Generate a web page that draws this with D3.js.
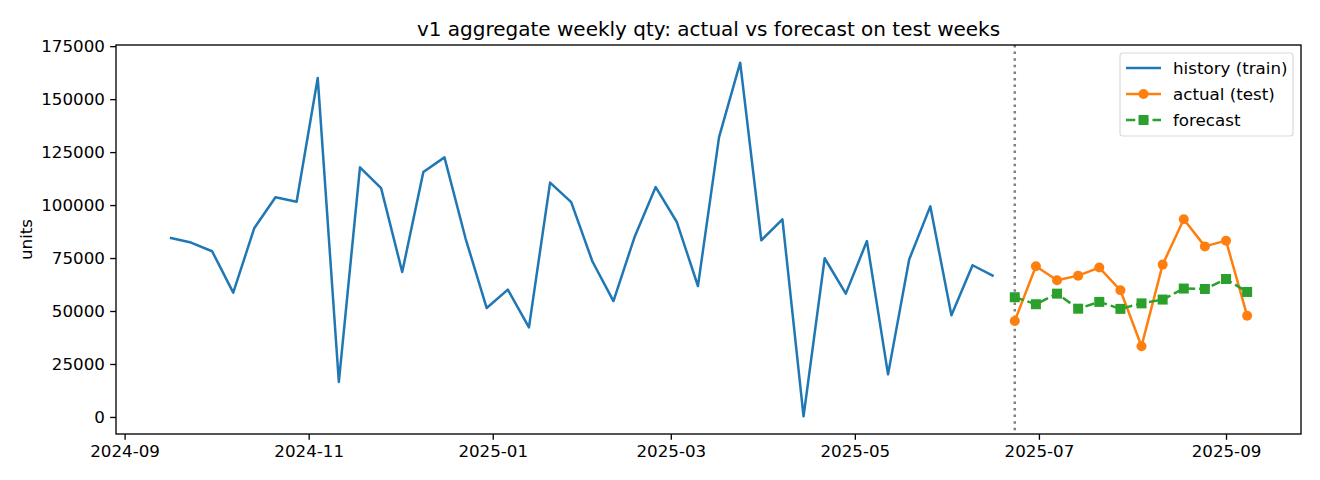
<!DOCTYPE html>
<html>
<head>
<meta charset="utf-8">
<script src="https://cdn.jsdelivr.net/npm/d3@7"></script>
<style>
  body { margin: 0; background: #fff; }
  text { font-family: "DejaVu Sans", sans-serif; }
</style>
</head>
<body>
<div id="chart"></div>
<script>
// weekly dates (Mondays)
var histDates = ["2024-09-16","2024-09-23","2024-09-30","2024-10-07","2024-10-14","2024-10-21","2024-10-28",
  "2024-11-04","2024-11-11","2024-11-18","2024-11-25","2024-12-02","2024-12-09","2024-12-16","2024-12-23",
  "2024-12-30","2025-01-06","2025-01-13","2025-01-20","2025-01-27","2025-02-03","2025-02-10","2025-02-17",
  "2025-02-24","2025-03-03","2025-03-10","2025-03-17","2025-03-24","2025-03-31","2025-04-07","2025-04-14",
  "2025-04-21","2025-04-28","2025-05-05","2025-05-12","2025-05-19","2025-05-26","2025-06-02","2025-06-09",
  "2025-06-16"];
var histQty = [84600, 82300, 78200, 58700, 89200, 103700, 101600, 160000, 16500, 117800, 108000, 68400,
  115600, 122500, 84200, 51400, 60100, 42300, 110600, 101400, 73500, 54700, 84900, 108500, 92000, 61800,
  132100, 167200, 83400, 93300, 300, 74900, 58200, 83000, 20100, 74300, 99400, 48000, 71600, 66500];

var testDates = ["2025-06-23","2025-06-30","2025-07-07","2025-07-14","2025-07-21","2025-07-28",
  "2025-08-04","2025-08-11","2025-08-18","2025-08-25","2025-09-01","2025-09-08"];
var actualQty = [45300, 71100, 64500, 66700, 70500, 59800, 33400, 71900, 93300, 80500, 83200, 47800];
var forecastQty = [56500, 53200, 58200, 51100, 54300, 51000, 53600, 55400, 60600, 60400, 65100, 59000];

var yTicks = [0, 25000, 50000, 75000, 100000, 125000, 150000, 175000];

var W = 1320, H = 480;
var margin = {top: 45, right: 19, bottom: 46, left: 116};
var iw = W - margin.left - margin.right, ih = H - margin.top - margin.bottom;

var parse = d3.utcParse("%Y-%m-%d");
var hist = histDates.map((d, i) => ({date: parse(d), v: histQty[i]}));
var actual = testDates.map((d, i) => ({date: parse(d), v: actualQty[i]}));
var fc = testDates.map((d, i) => ({date: parse(d), v: forecastQty[i]}));

var svg = d3.select("#chart").append("svg")
  .attr("width", W).attr("height", H);

// margini al 5% come matplotlib
var allDates = hist.concat(actual).map(d => +d.date);
var dMin = d3.min(allDates), dMax = d3.max(allDates), dPad = (dMax - dMin) * 0.05;
var x = d3.scaleUtc().domain([new Date(dMin - dPad), new Date(dMax + dPad)]).range([0, iw]);

var allV = histQty.concat(actualQty, forecastQty);
var vMin = d3.min(allV), vMax = d3.max(allV), vPad = (vMax - vMin) * 0.05;
var y = d3.scaleLinear().domain([vMin - vPad, vMax + vPad]).range([ih, 0]);

var g = svg.append("g").attr("transform", `translate(${margin.left},${margin.top})`);

var LW = 2.5;

// inizio settimane di test
g.append("line")
  .attr("x1", x(actual[0].date)).attr("x2", x(actual[0].date))
  .attr("y1", 0).attr("y2", ih)
  .attr("stroke", "#808080").attr("stroke-width", LW)
  .attr("stroke-dasharray", "2.5,4.1");

var line = d3.line().x(d => x(d.date)).y(d => y(d.v));

g.append("path").datum(hist)
  .attr("d", line).attr("fill", "none")
  .attr("stroke", "#1f77b4").attr("stroke-width", LW).attr("stroke-linejoin", "round");

g.append("path").datum(actual)
  .attr("d", line).attr("fill", "none")
  .attr("stroke", "#ff7f0e").attr("stroke-width", LW).attr("stroke-linejoin", "round");
g.selectAll(".dot").data(actual).enter().append("circle")
  .attr("cx", d => x(d.date)).attr("cy", d => y(d.v)).attr("r", 5)
  .attr("fill", "#ff7f0e");

g.append("path").datum(fc)
  .attr("d", line).attr("fill", "none")
  .attr("stroke", "#2ca02c").attr("stroke-width", LW)
  .attr("stroke-dasharray", "9.25,4");
g.selectAll(".sq").data(fc).enter().append("rect")
  .attr("x", d => x(d.date) - 5).attr("y", d => y(d.v) - 5)
  .attr("width", 10).attr("height", 10)
  .attr("fill", "#2ca02c");

// assi
var xAxis = d3.axisBottom(x).ticks(d3.utcMonth.every(2)).tickFormat(d3.utcFormat("%Y-%m"))
  .tickSize(5.8).tickPadding(5.3);
var gx = g.append("g").attr("transform", `translate(0,${ih})`).call(xAxis);
var yAxis = d3.axisLeft(y).tickValues(yTicks).tickFormat(d3.format("d"))
  .tickSize(5.8).tickPadding(5.3);
var gy = g.append("g").call(yAxis);
[gx, gy].forEach(a => {
  a.select(".domain").remove();
  a.selectAll("line").attr("stroke", "#000").attr("stroke-width", 1.33);
  a.selectAll("text").attr("fill", "#000").style("font-size", "16.7px")
    .style("font-family", "DejaVu Sans, sans-serif");
});

g.append("rect").attr("width", iw).attr("height", ih)
  .attr("fill", "none").attr("stroke", "#000").attr("stroke-width", 1.33);

svg.append("text")
  .attr("x", margin.left + iw / 2).attr("y", 36)
  .attr("text-anchor", "middle").style("font-size", "20px")
  .text("v1 aggregate weekly qty: actual vs forecast on test weeks");

svg.append("text")
  .attr("transform", `translate(32,${margin.top + ih / 2}) rotate(-90)`)
  .attr("text-anchor", "middle").style("font-size", "16.7px")
  .text("units");

// legenda
var legendItems = [
  {label: "history (train)", color: "#1f77b4", dash: null, marker: null},
  {label: "actual (test)", color: "#ff7f0e", dash: null, marker: "circle"},
  {label: "forecast", color: "#2ca02c", dash: "9.25,4", marker: "square"}
];
var lg = svg.append("g").attr("transform", "translate(1120,53)");
lg.append("rect").attr("width", 173).attr("height", 83).attr("rx", 3)
  .attr("fill", "#fff").attr("fill-opacity", 0.8)
  .attr("stroke", "#d9d9d9").attr("stroke-width", 1.2);
legendItems.forEach((it, i) => {
  var yy = 15 + i * 26;
  var row = lg.append("g").attr("transform", `translate(0,${yy})`);
  row.append("line").attr("x1", 6).attr("x2", 41).attr("y1", 0).attr("y2", 0)
    .attr("stroke", it.color).attr("stroke-width", LW)
    .attr("stroke-dasharray", it.dash);
  if (it.marker === "circle") {
    row.append("circle").attr("cx", 23.5).attr("cy", 0).attr("r", 5).attr("fill", it.color);
  } else if (it.marker === "square") {
    row.append("rect").attr("x", 18.5).attr("y", -5).attr("width", 10).attr("height", 10).attr("fill", it.color);
  }
  row.append("text").attr("x", 53).attr("y", 6).style("font-size", "16.7px").text(it.label);
});
</script>
</body>
</html>
